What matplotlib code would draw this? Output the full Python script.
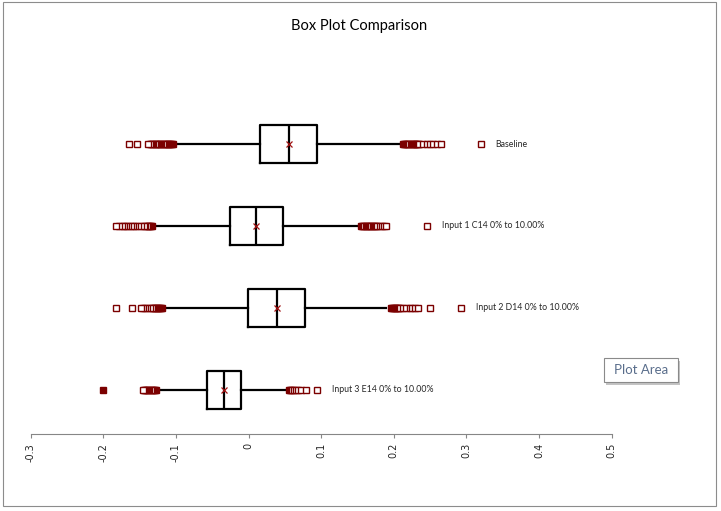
import matplotlib
matplotlib.use("Agg")
import matplotlib.pyplot as plt
from matplotlib.patches import Rectangle

# series, top to bottom
series_names = ["Baseline", "Input 1 C14 0% to 10.00%",
                "Input 2 D14 0% to 10.00%", "Input 3 E14 0% to 10.00%"]
positions = [4, 3, 2, 1]

q1 = [0.0157, -0.0255, -0.0008, -0.0571]
median = [0.0560, 0.0102, 0.0391, -0.0337]
q3 = [0.0945, 0.0468, 0.0776, -0.0109]
whisker_lo = [-0.0980, -0.1286, -0.1135, -0.1217]
whisker_hi = [0.2070, 0.1500, 0.1898, 0.0523]
mean = [0.0560, 0.0102, 0.0391, -0.0337]

# outliers, listed from the box outwards
base_lo = [-0.1035, -0.105, -0.1065, -0.108, -0.1095, -0.111, -0.1125, -0.114,
           -0.1155, -0.117, -0.1185, -0.12, -0.1215, -0.1235, -0.125, -0.1265,
           -0.128, -0.1295, -0.131, -0.1325, -0.134, -0.1355, -0.138,
           -0.154, -0.165]
base_hi = [0.2125, 0.214, 0.2155, 0.217, 0.2185, 0.22, 0.2215, 0.223, 0.2245,
           0.226, 0.2275, 0.229, 0.2305, 0.232, 0.2335, 0.235,
           0.2402, 0.245, 0.2498, 0.2546, 0.2601, 0.265]
in1_lo = [-0.133, -0.1345, -0.136, -0.1375, -0.139, -0.1405, -0.142, -0.1435,
          -0.1475, -0.1529, -0.1565, -0.1595, -0.1625, -0.1655, -0.1685,
          -0.1715, -0.1749, -0.179, -0.1832]
in1_hi = [0.155, 0.1565, 0.158, 0.1595, 0.161, 0.1625, 0.164, 0.1655, 0.167,
          0.1685, 0.171, 0.1725, 0.174, 0.1755, 0.177, 0.1805, 0.1835, 0.1862,
          0.1889]
in2_lo = [-0.119, -0.12, -0.1215, -0.123, -0.1245, -0.126, -0.1275, -0.129,
          -0.1305, -0.132, -0.1335, -0.136, -0.1392, -0.1423, -0.1456, -0.1488,
          -0.1612, -0.1832]
in2_hi = [0.1955, 0.197, 0.1985, 0.2, 0.2015, 0.203, 0.2045, 0.206, 0.2075,
          0.209, 0.212, 0.2162, 0.2217, 0.2251, 0.2292, 0.233, 0.25]
in3_lo = [-0.1275, -0.129, -0.1305, -0.132, -0.1335, -0.135, -0.1365, -0.138,
          -0.1395, -0.141, -0.1425, -0.1445, -0.146]
in3_hi = [0.0555, 0.057, 0.0585, 0.06, 0.0625, 0.065, 0.068, 0.0715, 0.0795]
in3_solid = [-0.201]
fliers = [base_lo + base_hi, in1_lo + in1_hi, in2_lo + in2_hi, in3_lo + in3_hi]

# where each series name point sits
label_x = [0.3199, 0.2456, 0.2924, 0.0945]

x_ticks = [-0.3, -0.2, -0.1, 0, 0.1, 0.2, 0.3, 0.4, 0.5]
x_ticklabels = ["-0.3", "-0.2", "-0.1", "0", "0.1", "0.2", "0.3", "0.4", "0.5"]

dark_red = "#7b0000"
W, H = 721, 511

fig = plt.figure(figsize=(W / 100, H / 100), dpi=100)
ax = fig.add_axes([30.7 / W, (H - 434) / H, 581 / W, (434 - 60) / H])

stats = []
for i in range(len(series_names)):
    stats.append(dict(label=series_names[i], q1=q1[i], med=median[i], q3=q3[i],
                      whislo=whisker_lo[i], whishi=whisker_hi[i], mean=mean[i],
                      fliers=fliers[i]))

square = dict(marker="s", markersize=4.7, markerfacecolor="white",
              markeredgecolor=dark_red, markeredgewidth=1.0)

ax.bxp(stats, positions=positions, widths=0.46, orientation="horizontal",
       showmeans=True, showcaps=False,
       boxprops=dict(color="black", linewidth=1.6),
       whiskerprops=dict(color="black", linewidth=1.6),
       medianprops=dict(color="black", linewidth=1.6),
       meanprops=dict(marker="x", markeredgecolor="#a01010", markersize=4.5,
                      markeredgewidth=0.9),
       flierprops=square)

ax.plot(in3_solid, [positions[3]] * len(in3_solid), ls="none", marker="s",
        markersize=4.7, color=dark_red, markeredgewidth=1.0)

# series name points with their labels
for name, xv, yv in zip(series_names, label_x, positions):
    ax.plot([xv], [yv], ls="none", **square)
    ax.annotate(name, (xv, yv), xytext=(10.5, 0), textcoords="offset points",
                va="center", ha="left", fontsize=6.3, family="Lato", color="#262626")

ax.set_xlim(-0.3, 0.5)
ax.set_ylim(0.459, 5.026)
ax.set_xticks(x_ticks)
ax.set_xticklabels(x_ticklabels, rotation=90, fontsize=7, color="#262626",
                   va="top", ha="center")
ax.set_yticks([])
for side in ["top", "left", "right"]:
    ax.spines[side].set_visible(False)
ax.spines["bottom"].set_color("#868686")
ax.spines["bottom"].set_linewidth(0.8)
ax.tick_params(axis="x", direction="out", length=3, width=0.8, color="#868686", pad=3.5)
ax.patch.set_alpha(0)

fig.text(359 / W, 1 - 26 / H, "Box Plot Comparison", ha="center", va="center",
         fontsize=10.5, family="Lato", color="black")

# chart area border
fig.add_artist(Rectangle((2.5 / W, (H - 506) / H), (716 - 2.5) / W, (506 - 2.5) / H,
                         transform=fig.transFigure, fill=False,
                         edgecolor="#8c8c8c", linewidth=0.8))

# "Plot Area" hover tip
fig.add_artist(Rectangle((606 / W, (H - 384.5) / H), 74 / W, 24 / H,
                         transform=fig.transFigure, facecolor="#c4c4c4",
                         edgecolor="none"))
fig.add_artist(Rectangle((604 / W, (H - 382) / H), 74 / W, 24 / H,
                         transform=fig.transFigure, facecolor="white",
                         edgecolor="#8a8a8a", linewidth=0.8))
fig.text(641 / W, 1 - 370 / H, "Plot Area", ha="center", va="center",
         fontsize=9.5, family="Lato", color="#5a6e8c")

fig.savefig("out.png", dpi=100)
